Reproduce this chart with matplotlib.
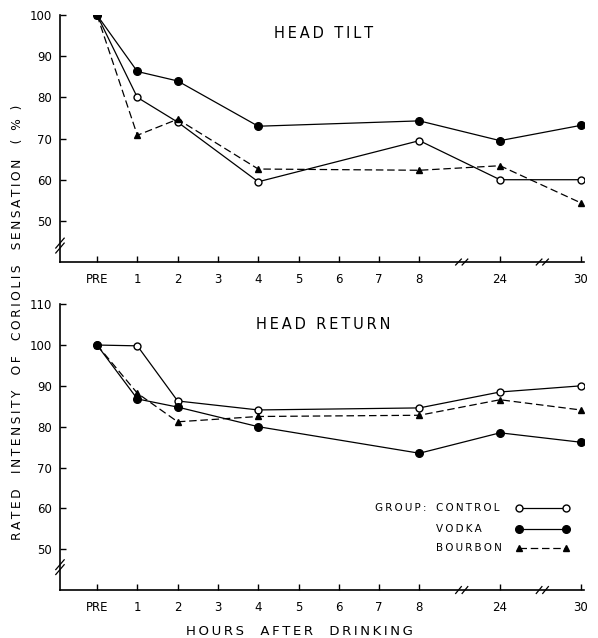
import numpy as np
import matplotlib
matplotlib.use("Agg")
import matplotlib.pyplot as plt
from matplotlib.lines import Line2D
from matplotlib.transforms import blended_transform_factory

# time points (hours after drinking) and their place on the broken axis
tick_labels = ["PRE", "1", "2", "3", "4", "5", "6", "7", "8", "24", "30"]
tick_pos = [0, 1, 2, 3, 4, 5, 6, 7, 8, 10, 12]
data_pos = [0, 1, 2, 4, 8, 10, 12]   # PRE, 1, 2, 4, 8, 24, 30

# HEAD TILT
tilt_control = [100, 80, 74, 59.5, 69.5, 60, 60]
tilt_vodka = [100, 86.3, 84, 73, 74.3, 69.5, 73.2]
tilt_bourbon = [100, 70.8, 74.7, 62.6, 62.3, 63.4, 54.4]

# HEAD RETURN
ret_control = [100, 99.8, 86.3, 84.1, 84.6, 88.5, 90]
ret_vodka = [100, 86.8, 84.8, 80, 73.5, 78.5, 76.2]
ret_bourbon = [100, 88.2, 81.2, 82.5, 82.8, 86.6, 84.1]

groups = ["CONTROL", "VODKA", "BOURBON"]
styles = {
    "CONTROL": dict(color='black', lw=0.9, marker='o', ms=5, mfc='white',
                    mec='black', mew=1),
    "VODKA": dict(color='black', lw=0.9, marker='o', ms=5.5, mfc='black',
                  mec='black'),
    "BOURBON": dict(color='black', lw=0.9, ls=(0, (6, 3)), marker='^', ms=5,
                    mfc='black', mec='black'),
}

plt.rcParams['font.family'] = ['DejaVu Sans']


def spaced(s):
    # wide lettering like the original
    return '\u2009'.join(s)


fig = plt.figure(figsize=(5.98, 6.38), dpi=100)
ax1 = fig.add_axes([0.1003, 0.5893, 0.876, 0.387])
ax2 = fig.add_axes([0.1003, 0.0752, 0.876, 0.448])


def style_axis(ax, ylo, yhi, yticks, ybreak):
    ax.set_xlim(-0.92, 12.08)
    ax.set_ylim(ylo, yhi)
    for s in ['top', 'right']:
        ax.spines[s].set_visible(False)
    for s in ['left', 'bottom']:
        ax.spines[s].set_linewidth(1.2)
    ax.set_xticks(tick_pos)
    ax.set_xticklabels(tick_labels)
    ax.set_yticks(yticks)
    ax.tick_params(direction='in', length=4, width=1, labelsize=8.5, pad=6)
    ax.tick_params(axis='x', pad=8)
    # y-axis break mark
    tr = blended_transform_factory(ax.transAxes, ax.transData)
    for dy in (-0.6, 0.6):
        ax.plot([-0.008, 0.008], [ybreak - 1.2 + dy, ybreak + 1.2 + dy],
                transform=tr, color='black', lw=0.9, clip_on=False)
    # x-axis break marks (between 8 and 24, and between 24 and 30)
    trx = blended_transform_factory(ax.transData, ax.transAxes)
    for xb in (9.05, 11.05):
        for dx in (-0.08, 0.08):
            ax.plot([xb + dx - 0.07, xb + dx + 0.07], [-0.012, 0.012],
                    transform=trx, color='black', lw=0.9, clip_on=False)


def draw_groups(ax, values):
    for g, v in zip(groups, values):
        ax.plot(data_pos, v, zorder=3, **styles[g])


draw_groups(ax1, [tilt_control, tilt_vodka, tilt_bourbon])
style_axis(ax1, 40, 100, [50, 60, 70, 80, 90, 100], 44)
ax1.text(0.503, 0.925, spaced("HEAD TILT"), transform=ax1.transAxes,
         ha='center', va='center', fontsize=10.5)

draw_groups(ax2, [ret_control, ret_vodka, ret_bourbon])
style_axis(ax2, 40, 110, [50, 60, 70, 80, 90, 100, 110], 45.6)
ax2.text(0.503, 0.93, spaced("HEAD RETURN"), transform=ax2.transAxes,
         ha='center', va='center', fontsize=10.5)

# legend, drawn by hand so the labels stay left aligned
leg_rows = [0.2038, 0.1708, 0.1411]
fig.text(0.627, leg_rows[0], spaced("GROUP:"), ha='left', va='center',
         fontsize=7.5)
for g, y in zip(groups, leg_rows):
    fig.text(0.729, y, spaced(g), ha='left', va='center', fontsize=7.5)
    fig.add_artist(Line2D([0.868, 0.946], [y, y], transform=fig.transFigure,
                          **styles[g]))

fig.text(0.5, 0.005, spaced("HOURS  AFTER  DRINKING"), ha='center',
         va='baseline', fontsize=9.5)
fig.text(0.029, 0.495,
         spaced("RATED  INTENSITY  OF  CORIOLIS  SENSATION  ( % )"),
         rotation=90, ha='center', va='center', fontsize=8.8)

fig.savefig("out.png", dpi=100)
